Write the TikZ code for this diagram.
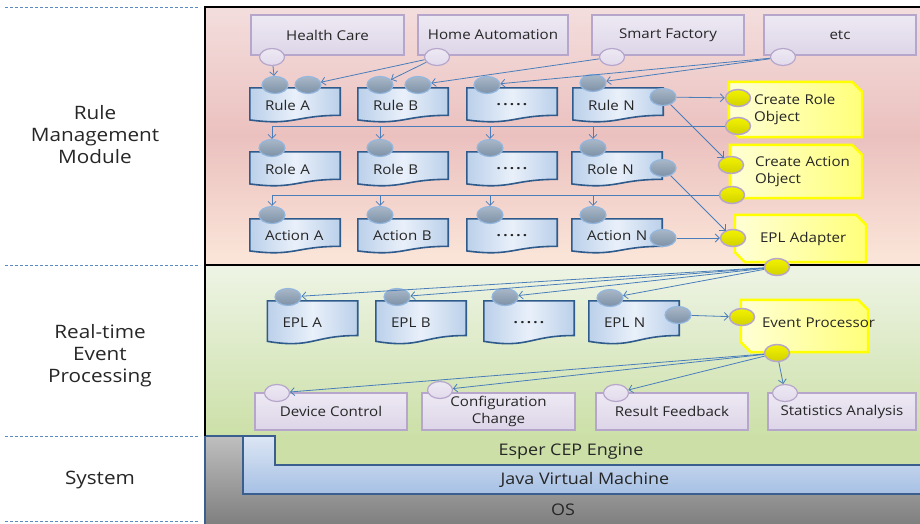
\documentclass[tikz,border=0pt]{standalone}
\usepackage{fontspec}
\setmainfont{Open Sans}[FakeStretch=1.12]
\usetikzlibrary{shapes.geometric,arrows.meta,positioning,calc}

\definecolor{pinktop}{HTML}{F3DEDD}
\definecolor{pinkmid}{HTML}{EBC1BF}
\definecolor{pinkbot}{HTML}{FBE6D9}
\definecolor{greentop}{HTML}{EEF4E5}
\definecolor{greenbot}{HTML}{CCE0A8}
\definecolor{esper}{HTML}{CBDFA6}
\definecolor{jvmtop}{HTML}{DCE6F4}
\definecolor{jvmbot}{HTML}{A6C0E4}
\definecolor{ostop}{HTML}{BFBFBF}
\definecolor{osbot}{HTML}{808080}
\definecolor{sysline}{HTML}{3A5F8E}
\definecolor{lavtop}{HTML}{EDE9F3}
\definecolor{lavbot}{HTML}{DDD5E8}
\definecolor{lavline}{HTML}{B6A6CB}
\definecolor{lavdot}{HTML}{E2DAEC}
\definecolor{docline}{HTML}{2F5B8C}
\definecolor{docside}{HTML}{BBD0EA}
\definecolor{docmid}{HTML}{E9F0FA}
\definecolor{graytop}{HTML}{A9B8C8}
\definecolor{graybot}{HTML}{7C90A6}
\definecolor{grayline}{HTML}{93B6DE}
\definecolor{ylight}{HTML}{FFFFD6}
\definecolor{ydeep}{HTML}{FFFF7A}
\definecolor{yline}{HTML}{FFFF00}
\definecolor{ydottop}{HTML}{F2F200}
\definecolor{ydotbot}{HTML}{D2D200}
\definecolor{arrowblue}{HTML}{4A7EBB}
\definecolor{dashblue}{HTML}{5A8BC0}
\definecolor{inktext}{HTML}{262626}

\pgfdeclarelayer{back}
\pgfdeclarelayer{shapes}
\pgfsetlayers{back,shapes,main}

\newcommand\fivedots{\textbf{.\,.\,.\,.\,.}}

\begin{document}
\begin{tikzpicture}[x=1pt,y=-1pt,
  >={Straight Barb[length=4pt,width=8pt]},
  every node/.style={font=\fontsize{13.5}{16.5}\selectfont,text=inktext},
  src/.style={rectangle,draw=lavline,line width=1.5pt,top color=lavtop,bottom color=lavbot,
    minimum height=40pt,inner sep=0pt,align=center},
  doc/.style={rectangle,minimum height=34pt,inner xsep=15pt,inner ysep=0pt,text width=60pt,align=left},
  ybox/.style={rectangle,inner xsep=25pt,inner ysep=0pt,text width=#1,align=left},
  docshape/.style={draw=docline,line width=1.6pt,left color=docside,right color=docside,middle color=docmid},
  yshape/.style={draw=yline,line width=2.5pt,left color=ylight,right color=ydeep},
  lport/.style={ellipse,draw=lavline,line width=1.2pt,top color=lavtop,bottom color=lavdot,
    minimum width=25pt,minimum height=17pt,inner sep=0pt},
  gport/.style={ellipse,draw=grayline,line width=1.2pt,top color=graytop,bottom color=graybot,
    minimum width=26pt,minimum height=17pt,inner sep=0pt},
  yport/.style={ellipse,draw=lavline,line width=1.5pt,top color=ydottop,bottom color=ydotbot,
    minimum width=25pt,minimum height=17pt,inner sep=0pt},
  conn/.style={draw=arrowblue,line width=0.8pt,->},
  bus/.style={draw=arrowblue,line width=0.8pt},
  sepline/.style={draw=dashblue,line width=1pt,dash pattern=on 3pt off 2pt},
  sidelabel/.style={align=center,font=\fontsize{18.5}{22}\selectfont},
  systext/.style={font=\fontsize{16}{18}\selectfont}]

\useasboundingbox (0,0) rectangle (920,523);

% layers behind
\begin{pgfonlayer}{back}
  \path[top color=pinktop,bottom color=pinkbot,middle color=pinkmid] (205,7) rectangle (921,265);
  \path[top color=greentop,bottom color=greenbot] (205,265) rectangle (921,436);
  \path[top color=ostop,bottom color=osbot] (205,436) rectangle (921,523);
  \fill[esper] (275,435) rectangle (921,465);
  \path[top color=jvmtop,bottom color=jvmbot,draw=sysline,line width=1.4pt]
    (243,436) -- (275,436) -- (275,465) -- (922,465) -- (922,494) -- (243,494) -- cycle;
  \draw[sysline,line width=1.4pt] (243,436) -- (205,436) -- (205,524);
  \draw[black,line width=1.6pt] (205,436) -- (205,7) -- (921,7);
  \draw[black,line width=1.6pt] (205,265) -- (921,265);
\end{pgfonlayer}

\foreach \y in {7,265,436,521}
  \draw[sepline] (5,\y) -- (200,\y);

\node[sidelabel] (lblRule) at (95,135) {Rule\\Management\\Module};
\node[sidelabel] (lblEvent) at (100,356) {Real-time\\Event\\Processing};
\node[sidelabel] (lblSys) at (100,480) {System};

% sources
\node[src,minimum width=153pt] (health) at (327.5,35) {Health Care};
\node[src,minimum width=150pt] (home) at (493,35) {Home Automation};
\node[src,minimum width=152pt] (smart) at (668,35) {Smart Factory};
\node[src,minimum width=152pt] (etcbox) at (840,35) {etc};

% rule / role / action rows
\node[doc] (ruleA) at (295,105) {\mbox{Rule A}};
\node[doc] (ruleB) at (403,105) {\mbox{Rule B}};
\node[doc,align=center] (ruleD) at (512,105) {\fivedots};
\node[doc] (ruleN) at (618,105) {\mbox{Rule N}};
\node[doc] (roleA) at (295,169) {\mbox{Role A}};
\node[doc] (roleB) at (403,169) {\mbox{Role B}};
\node[doc,align=center] (roleD) at (512,169) {\fivedots};
\node[doc] (roleN) at (617,169) {\mbox{Role N}};
\node[doc] (actA) at (295,236) {\mbox{Action A}};
\node[doc] (actB) at (403,236) {\mbox{Action B}};
\node[doc,align=center] (actD) at (512,236) {\fivedots};
\node[doc] (actN) at (617,236) {\mbox{Action N}};

% epl row
\node[doc,minimum height=43pt] (eplA) at (312.5,322.5) {\mbox{EPL A}};
\node[doc,minimum height=43pt] (eplB) at (421,322.5) {\mbox{EPL B}};
\node[doc,minimum height=43pt,align=center] (eplD) at (529,322.5) {\fivedots};
\node[doc,minimum height=43pt] (eplN) at (634,322.5) {\mbox{EPL N}};

% yellow boxes
\node[ybox=83pt,minimum height=55pt] (roleObj) at (795.5,109.5) {\mbox{Create Role}\\Object};
\node[ybox=82pt,minimum height=53pt] (actObj) at (796,171.5) {\mbox{Create Action}\\Object};
\node[ybox=81pt,minimum height=47pt] (eplAd) at (800.5,238.5) {\mbox{EPL Adapter}};
\node[ybox=85pt,inner xsep=21pt,minimum height=52pt] (evProc) at (804.5,326) {\raisebox{7pt}{\mbox{Event Processor}}};

% outputs
\node[src,minimum width=152pt,minimum height=37pt] (devCtl) at (331,411.5) {Device Control};
\node[src,minimum width=153pt,minimum height=37pt] (cfgChg) at (498.5,411.5) {Configuration\\Change};
\node[src,minimum width=152pt,minimum height=37pt] (resFb) at (672,411.5) {Result Feedback};
\node[src,minimum width=148pt,minimum height=37pt] (statAn) at (842,411.5) {Statistics Analysis};

% system
\node[systext] (esperTxt) at (571,452) {Esper CEP Engine};
\node[systext] (jvmTxt) at (585,480) {Java Virtual Machine};
\node[systext] (osTxt) at (563,510) {OS};

\begin{pgfonlayer}{shapes}
  \foreach \d in {ruleA,ruleB,ruleD,ruleN,roleA,roleB,roleD,roleN,actA,actB,actD,actN,eplA,eplB,eplD,eplN}
    \path[docshape] let \p1=(\d.north west), \p2=(\d.south east) in
      (\x1,\y1) -- (\x2,\y1) -- (\x2,{\y1+0.8*(\y2-(\y1))})
      .. controls ({(\x1+\x2)/2},{\y1+0.8*(\y2-(\y1))}) and ({(\x1+\x2)/2},{\y1+1.107*(\y2-(\y1))})
      .. (\x1,{\y1+0.934*(\y2-(\y1))}) -- cycle;
  \foreach \d in {roleObj,actObj,eplAd,evProc}
    \path[yshape] let \p1=(\d.north west), \p2=(\d.south east) in
      (\x1,\y1) -- ({\x2-10pt},\y1) -- (\x2,{\y1-10pt}) -- (\x2,\y2)
      -- ({\x1+10pt},\y2) -- (\x1,{\y2+10pt}) -- cycle;
\end{pgfonlayer}

% ports
\node[lport] (pHealth) at (272,57) {};
\node[lport] (pHome) at (437,57) {};
\node[lport] (pSmart) at (612,57) {};
\node[lport] (pEtc) at (783,57) {};
\node[gport] (rA1) at (275,85) {};
\node[gport] (rA2) at (308,85) {};
\node[gport] (rB1) at (380,85) {};
\node[gport] (rB2) at (418,85) {};
\node[gport] (rD1) at (487,85) {};
\node[gport] (rN1) at (593,83) {};
\node[gport] (rNo) at (663,97) {};
\node[gport] (oA) at (272,148) {};
\node[gport] (oB) at (380,148) {};
\node[gport] (oD) at (490,148) {};
\node[gport] (oN) at (593,148) {};
\node[gport] (oNo) at (663,168) {};
\node[gport] (aA) at (272,215) {};
\node[gport] (aB) at (380,215) {};
\node[gport] (aD) at (490,215) {};
\node[gport] (aN) at (593,215) {};
\node[gport] (aNo) at (663,238) {};
\node[gport] (eA) at (288,297) {};
\node[gport] (eB) at (397,297) {};
\node[gport] (eD) at (505,297) {};
\node[gport] (eN) at (610,298) {};
\node[gport] (eNo) at (678,315) {};
\node[yport] (yRo1) at (738,98) {};
\node[yport] (yRo2) at (738,126) {};
\node[yport] (yAc1) at (731,165) {};
\node[yport] (yAc2) at (732,195) {};
\node[yport] (yEa) at (733,238) {};
\node[yport] (yEb) at (777,267) {};
\node[yport] (yEv1) at (742,317) {};
\node[yport] (yEv2) at (777,353) {};
\node[lport] (qDev) at (277,393) {};
\node[lport] (qCfg) at (440,390) {};
\node[lport] (qRes) at (616,393) {};
\node[lport] (qStat) at (785,393) {};

% connectors
\draw[conn] (pHealth) -- (rA1);
\draw[conn] (pHome) -- (rA2);
\draw[conn] (pHome) -- (rB1);
\draw[conn] (pSmart) -- (rB2);
\draw[conn] (pEtc) -- (rD1);
\draw[conn] (pEtc) -- (rN1);
\draw[conn] (rNo) -- (yRo1);
\draw[conn] (rNo) -- (yAc1);
\draw[bus] (yRo2) -- (yRo2 -| oA);
\foreach \p in {oA,oB,oD,oN}
  \draw[conn] (yRo2 -| \p) -- (\p);
\draw[bus] (yAc2) -- (yAc2 -| aA);
\foreach \p in {aA,aB,aD,aN}
  \draw[conn] (yAc2 -| \p) -- (\p);
\draw[conn] (oNo) -- (yEa);
\draw[conn] (aNo) -- (yEa);
\foreach \p in {eA,eB,eD,eN}
  \draw[conn] (yEb) -- (\p);
\draw[conn] (eNo) -- (yEv1);
\foreach \p in {qDev,qCfg,qRes,qStat}
  \draw[conn] (yEv2) -- (\p);
\end{tikzpicture}
\end{document}
